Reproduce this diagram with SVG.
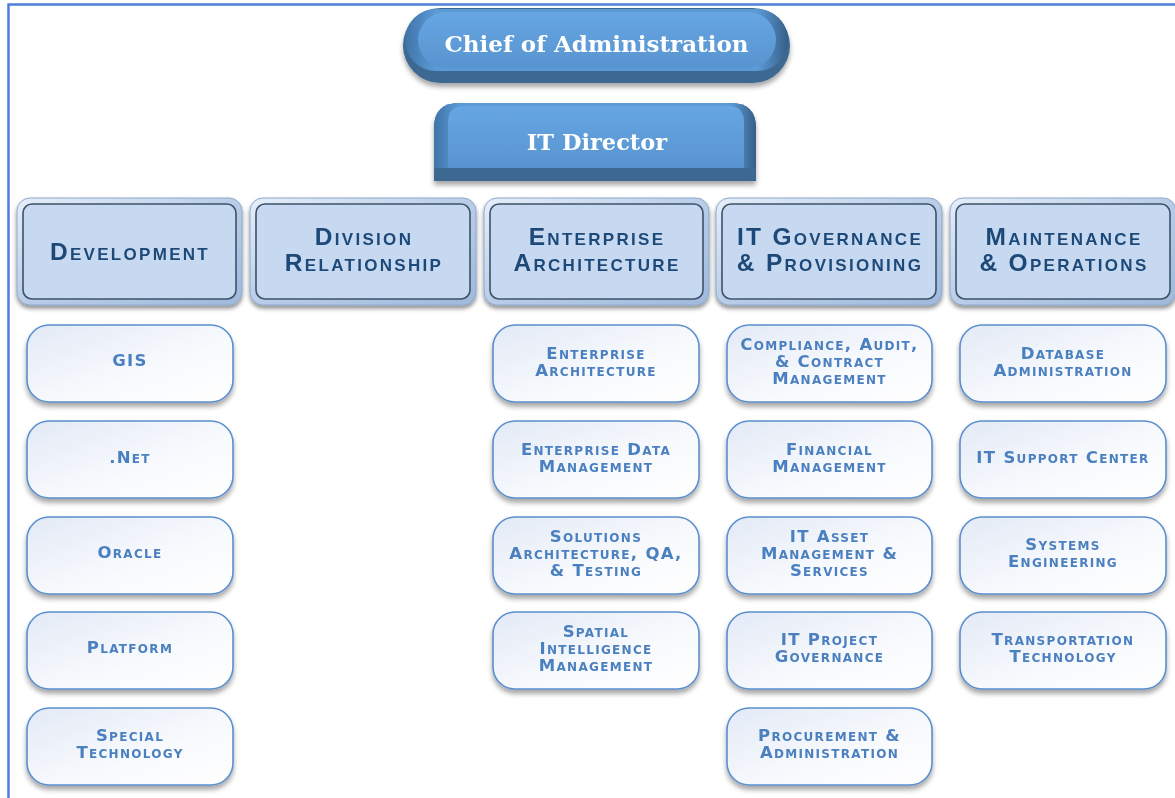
<svg xmlns="http://www.w3.org/2000/svg" width="1175" height="798" viewBox="0 0 1175 798">
<style>
.t1{font-family:"DejaVu Serif","Liberation Serif",serif;font-weight:bold;fill:#ffffff;text-anchor:middle}
.t2{font-family:"Liberation Sans",Arial,sans-serif;font-weight:bold;fill:#1f4a78;text-anchor:middle;font-variant:small-caps;font-size:24.5px;letter-spacing:2.3px}
.t3{font-family:"DejaVu Sans","Liberation Sans",sans-serif;font-weight:bold;fill:#4c80c0;text-anchor:middle;font-variant:small-caps;font-size:16.5px;letter-spacing:1.3px}
.b3{fill:url(#g3);stroke:#5b8fcd;stroke-width:1.6}
.b2o{fill:url(#g2o);stroke:#8ea9cb;stroke-width:1}
.b2i{fill:#c6d9f1;stroke:#3d5168;stroke-width:1.6}
</style>
<defs>
<linearGradient id="g3" x1="0" y1="0" x2="1" y2="1">
<stop offset="0" stop-color="#e3eaf6"/>
<stop offset="0.6" stop-color="#f8fafd"/>
<stop offset="1" stop-color="#ffffff"/>
</linearGradient>
<linearGradient id="g2o" x1="0" y1="0" x2="1" y2="1">
<stop offset="0" stop-color="#e6eefa"/>
<stop offset="0.5" stop-color="#b9cde8"/>
<stop offset="1" stop-color="#9fb9dc"/>
</linearGradient>
<linearGradient id="gface" x1="0" y1="0" x2="0" y2="1">
<stop offset="0" stop-color="#66a6e2"/>
<stop offset="1" stop-color="#5894d0"/>
</linearGradient>
<linearGradient id="gside" x1="0" y1="0" x2="1" y2="0">
<stop offset="0" stop-color="#3f74a8"/>
<stop offset="0.08" stop-color="#5c9ad6"/>
<stop offset="0.92" stop-color="#5c9ad6"/>
<stop offset="1" stop-color="#365f88"/>
</linearGradient>
<filter id="sh" x="-10%" y="-10%" width="120%" height="140%">
<feDropShadow dx="0" dy="4" stdDeviation="2.5" flood-color="#000000" flood-opacity="0.35"/>
</filter>
<filter id="sh2" x="-10%" y="-10%" width="120%" height="140%">
<feDropShadow dx="0" dy="3" stdDeviation="2" flood-color="#000000" flood-opacity="0.45"/>
</filter>
</defs>

<rect width="1175" height="798" fill="#ffffff"/>
<g id="frame" fill="none" stroke="#4f7fdc" stroke-width="2.5">
<path d="M8.5 800 V4.5 H1176"/>
</g>

<g id="connectors"/>

<g id="chief" filter="url(#sh)">
<rect x="403" y="8" width="387" height="75" rx="37.5" fill="#3c6892"/>
<rect x="405" y="9" width="383" height="62" rx="31" fill="url(#gside)"/>
<rect x="418" y="12" width="358" height="56" rx="28" fill="url(#gface)"/>
<text class="t1" x="596.5" y="52" font-size="23">Chief of Administration</text>
</g>

<g id="itdirector" filter="url(#sh)">
<path d="M434 181 V128 Q434 103 459 103 H731 Q756 103 756 128 V181 Z" fill="#3c6892"/>
<path d="M434 168 V128 Q434 103 459 103 H731 Q756 103 756 128 V168 Z" fill="url(#gside)"/>
<path d="M448 168 V122 Q448 106 464 106 H728 Q744 106 744 122 V168 Z" fill="url(#gface)"/>
<text class="t1" x="597" y="150" font-size="22.5">IT Director</text>
</g>

<g id="development" filter="url(#sh2)">
<rect class="b2o" x="17" y="198" width="225" height="107" rx="13"/>
<rect class="b2i" x="23" y="204" width="213" height="95" rx="9"/>
<text class="t2" x="130" y="260">Development</text>
</g>
<g id="division-relationship" filter="url(#sh2)">
<rect class="b2o" x="250" y="198" width="226" height="107" rx="13"/>
<rect class="b2i" x="256" y="204" width="214" height="95" rx="9"/>
<text class="t2" x="364" y="245">Division</text>
<text class="t2" x="364" y="271">Relationship</text>
</g>
<g id="enterprise-architecture-div" filter="url(#sh2)">
<rect class="b2o" x="484" y="198" width="225" height="107" rx="13"/>
<rect class="b2i" x="490" y="204" width="213" height="95" rx="9"/>
<text class="t2" x="597" y="245">Enterprise</text>
<text class="t2" x="597" y="271">Architecture</text>
</g>
<g id="it-governance" filter="url(#sh2)">
<rect class="b2o" x="716" y="198" width="226" height="107" rx="13"/>
<rect class="b2i" x="722" y="204" width="214" height="95" rx="9"/>
<text class="t2" x="830" y="245">IT Governance</text>
<text class="t2" x="830" y="271">&amp; Provisioning</text>
</g>
<g id="maintenance" filter="url(#sh2)">
<rect class="b2o" x="950" y="198" width="226" height="107" rx="13"/>
<rect class="b2i" x="956" y="204" width="214" height="95" rx="9"/>
<text class="t2" x="1064" y="245">Maintenance</text>
<text class="t2" x="1064" y="271">&amp; Operations</text>
</g>

<!-- Development column -->
<g id="gis" filter="url(#sh)">
<rect class="b3" x="27" y="325" width="206" height="77" rx="22"/>
<text class="t3" x="130" y="366">GIS</text>
</g>
<g id="dotnet" filter="url(#sh)">
<rect class="b3" x="27" y="421" width="206" height="77" rx="22"/>
<text class="t3" x="130" y="463">.Net</text>
</g>
<g id="oracle" filter="url(#sh)">
<rect class="b3" x="27" y="517" width="206" height="77" rx="22"/>
<text class="t3" x="130" y="558">Oracle</text>
</g>
<g id="platform" filter="url(#sh)">
<rect class="b3" x="27" y="612" width="206" height="77" rx="22"/>
<text class="t3" x="130" y="653">Platform</text>
</g>
<g id="special-technology" filter="url(#sh)">
<rect class="b3" x="27" y="708" width="206" height="77" rx="22"/>
<text class="t3" x="130" y="741">Special</text>
<text class="t3" x="130" y="758">Technology</text>
</g>

<!-- Enterprise Architecture column -->
<g id="ea" filter="url(#sh)">
<rect class="b3" x="493" y="325" width="206" height="77" rx="22"/>
<text class="t3" x="596" y="359">Enterprise</text>
<text class="t3" x="596" y="376">Architecture</text>
</g>
<g id="edm" filter="url(#sh)">
<rect class="b3" x="493" y="421" width="206" height="77" rx="22"/>
<text class="t3" x="596" y="455">Enterprise Data</text>
<text class="t3" x="596" y="472">Management</text>
</g>
<g id="solutions" filter="url(#sh)">
<rect class="b3" x="493" y="517" width="206" height="77" rx="22"/>
<text class="t3" x="596" y="542">Solutions</text>
<text class="t3" x="596" y="559">Architecture, QA,</text>
<text class="t3" x="596" y="576">&amp; Testing</text>
</g>
<g id="spatial" filter="url(#sh)">
<rect class="b3" x="493" y="612" width="206" height="77" rx="22"/>
<text class="t3" x="596" y="637">Spatial</text>
<text class="t3" x="596" y="654">Intelligence</text>
<text class="t3" x="596" y="671">Management</text>
</g>

<!-- IT Governance column -->
<g id="compliance" filter="url(#sh)">
<rect class="b3" x="727" y="325" width="205" height="77" rx="22"/>
<text class="t3" x="829.5" y="350">Compliance, Audit,</text>
<text class="t3" x="829.5" y="367">&amp; Contract</text>
<text class="t3" x="829.5" y="384">Management</text>
</g>
<g id="financial" filter="url(#sh)">
<rect class="b3" x="727" y="421" width="205" height="77" rx="22"/>
<text class="t3" x="829.5" y="455">Financial</text>
<text class="t3" x="829.5" y="472">Management</text>
</g>
<g id="asset" filter="url(#sh)">
<rect class="b3" x="727" y="517" width="205" height="77" rx="22"/>
<text class="t3" x="829.5" y="542">IT Asset</text>
<text class="t3" x="829.5" y="559">Management &amp;</text>
<text class="t3" x="829.5" y="576">Services</text>
</g>
<g id="project" filter="url(#sh)">
<rect class="b3" x="727" y="612" width="205" height="77" rx="22"/>
<text class="t3" x="829.5" y="645">IT Project</text>
<text class="t3" x="829.5" y="662">Governance</text>
</g>
<g id="procurement" filter="url(#sh)">
<rect class="b3" x="727" y="708" width="205" height="77" rx="22"/>
<text class="t3" x="829.5" y="741">Procurement &amp;</text>
<text class="t3" x="829.5" y="758">Administration</text>
</g>

<!-- Maintenance column -->
<g id="database" filter="url(#sh)">
<rect class="b3" x="960" y="325" width="206" height="77" rx="22"/>
<text class="t3" x="1063" y="359">Database</text>
<text class="t3" x="1063" y="376">Administration</text>
</g>
<g id="support" filter="url(#sh)">
<rect class="b3" x="960" y="421" width="206" height="77" rx="22"/>
<text class="t3" x="1063" y="463">IT Support Center</text>
</g>
<g id="systems" filter="url(#sh)">
<rect class="b3" x="960" y="517" width="206" height="77" rx="22"/>
<text class="t3" x="1063" y="550">Systems</text>
<text class="t3" x="1063" y="567">Engineering</text>
</g>
<g id="transportation" filter="url(#sh)">
<rect class="b3" x="960" y="612" width="206" height="77" rx="22"/>
<text class="t3" x="1063" y="645">Transportation</text>
<text class="t3" x="1063" y="662">Technology</text>
</g>
</svg>
